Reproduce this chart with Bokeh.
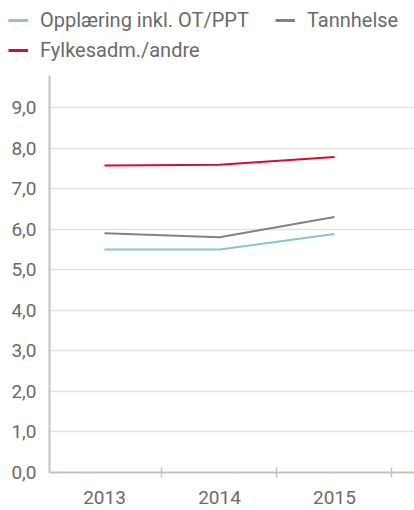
from bokeh.plotting import figure
from bokeh.layouts import column
from bokeh.models import FixedTicker, CustomJSTickFormatter, Legend, LegendItem, Range1d
from bokeh.embed import file_html
from bokeh.resources import INLINE

years = [2013, 2014, 2015]
opplaering = [5.5, 5.5, 5.88]
tannhelse = [5.9, 5.8, 6.3]
fylkesadm = [7.57, 7.59, 7.78]
y_ticks = [0, 1, 2, 3, 4, 5, 6, 7, 8, 9]
names = ["Opplæring inkl. OT/PPT", "Tannhelse", "Fylkesadm./andre"]
colors = ["#88c6c8", "#8a8078", "#dc0a2d"]
series = [opplaering, tannhelse, fylkesadm]

FONT = "Roboto"
AXIS_COL = "#c9c1b9"
GRID_COL = "#e6e1dc"
TEXT_COL = "#6a6a6a"

p = figure(width=414, height=435, output_backend="svg", toolbar_location=None,
           x_range=Range1d(2012.5217, 2015.696), y_range=Range1d(0, 9.79),
           min_border_left=49, min_border_right=0, min_border_top=0, min_border_bottom=38)
p.outline_line_color = None

for vals, col in zip(series, colors):
    p.line(years, vals, line_color=col, line_width=2)

# x axis
p.xaxis.ticker = FixedTicker(ticks=years, minor_ticks=[2013.5, 2014.5, 2015.5])
p.xaxis.major_tick_in = 0
p.xaxis.major_tick_out = 0
p.xaxis.minor_tick_in = 5
p.xaxis.minor_tick_out = 5
p.xaxis.minor_tick_line_color = AXIS_COL
p.xaxis.minor_tick_line_width = 1.5
p.xaxis.axis_line_color = AXIS_COL
p.xaxis.axis_line_width = 2
p.xaxis.major_label_text_font = FONT
p.xaxis.major_label_text_font_size = "19px"
p.xaxis.major_label_text_color = TEXT_COL
p.xaxis.major_label_standoff = 13
p.xaxis.formatter = CustomJSTickFormatter(code="return String(Math.round(tick));")

# y axis
p.yaxis.ticker = FixedTicker(ticks=y_ticks, minor_ticks=[])
p.yaxis.formatter = CustomJSTickFormatter(code="return tick.toFixed(1).replace('.', ',');")
p.yaxis.major_tick_in = 0
p.yaxis.major_tick_out = 0
p.yaxis.minor_tick_in = 0
p.yaxis.minor_tick_out = 0
p.yaxis.axis_line_color = AXIS_COL
p.yaxis.axis_line_width = 2
p.yaxis.major_label_text_font = FONT
p.yaxis.major_label_text_font_size = "19px"
p.yaxis.major_label_text_color = TEXT_COL
p.yaxis.major_label_standoff = 13

p.xgrid.grid_line_color = None
p.ygrid.grid_line_color = GRID_COL
p.ygrid.grid_line_width = 1.5

# legend-only figure on top (its lines lie outside its own view, only the legend shows)
lf = figure(width=414, height=75, output_backend="svg", toolbar_location=None,
            x_range=Range1d(0, 1), y_range=Range1d(0, 1),
            x_axis_location=None, y_axis_location=None,
            min_border_left=0, min_border_right=0, min_border_top=0, min_border_bottom=0)
lf.grid.grid_line_color = None
lf.outline_line_color = None
for fig in (lf, p):
    try:
        fig.frame_align = False
    except Exception:
        pass
lrs = [lf.line(years, vals, line_color=c, line_width=3) for vals, c in zip(series, colors)]

common = dict(label_text_font=FONT, label_text_font_size="20px", label_text_color=TEXT_COL,
              glyph_width=20, glyph_height=26, label_height=26, label_standoff=12,
              spacing=4, padding=0, margin=0, border_line_color=None, background_fill_alpha=0)
leg1 = Legend(items=[LegendItem(label=names[0], renderers=[lrs[0]]),
                     LegendItem(label=names[2], renderers=[lrs[2]])],
              orientation="vertical", location=(8, 12), **common)
leg2 = Legend(items=[LegendItem(label=names[1], renderers=[lrs[1]])],
              orientation="vertical", location=(275, 42), **common)
lf.add_layout(leg1, "center")
lf.add_layout(leg2, "center")

layout = column(lf, p, spacing=0)
open("out.html", "w").write(file_html(layout, INLINE))
